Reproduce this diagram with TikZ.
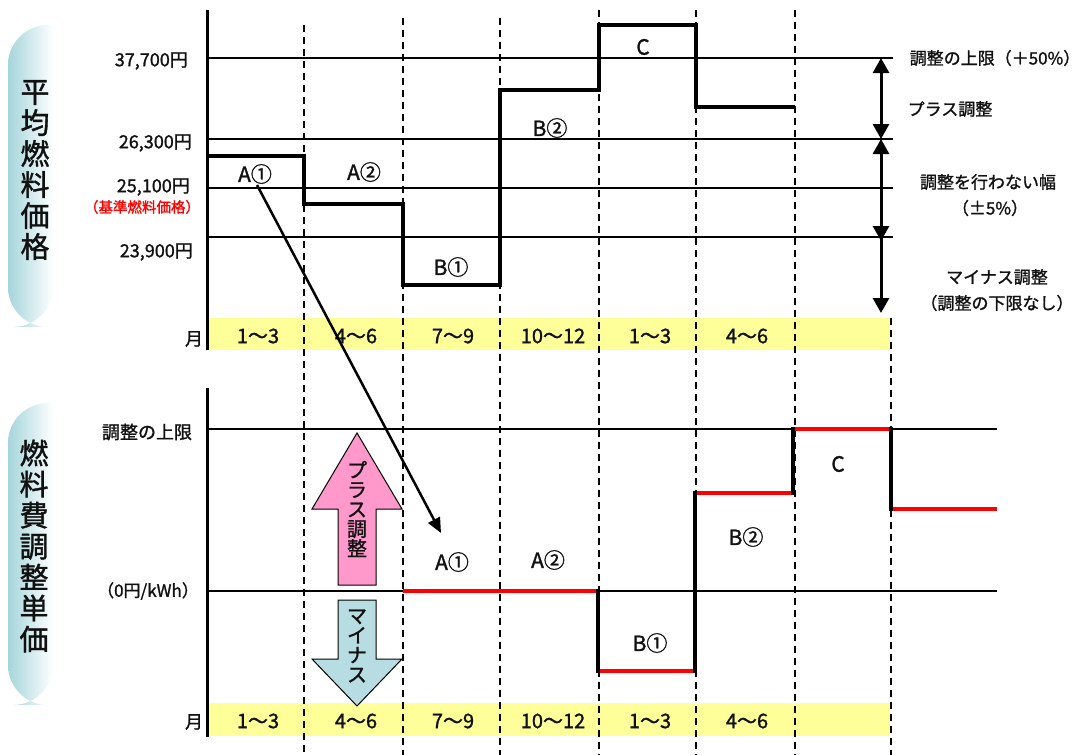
\documentclass[tikz,border=0pt]{standalone}
\usepackage{fontspec}
\setmainfont{Noto Sans CJK JP}[FakeBold=1.3]
\usetikzlibrary{arrows.meta}
\definecolor{band}{RGB}{255,255,153}
\definecolor{pinkc}{RGB}{255,153,204}
\definecolor{bluec}{RGB}{183,221,227}
\definecolor{bannerc}{RGB}{165,213,219}
\definecolor{txt}{RGB}{17,17,17}
\begin{document}
\begin{tikzpicture}[x=1pt,y=-1pt,
  gridline/.style={line width=2pt},
  thickgrid/.style={line width=2.8pt},
  axisline/.style={line width=3pt},
  stepline/.style={line width=3.6pt, line join=miter},
  redline/.style={line width=3.6pt, red},
  dashline/.style={line width=1.4pt, dash pattern=on 7pt off 5pt},
  lbl/.style={font=\fontsize{21}{23}\selectfont, text=txt, inner sep=0pt},
  axlbl/.style={font=\fontsize{18}{20}\selectfont, text=txt, anchor=east, inner sep=0pt},
  mon/.style={font=\fontsize{20}{22}\selectfont, text=txt, inner sep=0pt},
  rlbl/.style={font=\fontsize{17}{20}\selectfont, text=txt, inner sep=0pt},
  bannertxt/.style={font=\fontsize{29}{31}\selectfont, text=txt, align=center, inner sep=0pt},
  blocktxt/.style={font=\fontsize{20}{19.6}\selectfont, text=txt, align=center, inner sep=0pt},
  bigtip/.style={line width=3pt},
  tipstyle/.tip={Triangle[length=15pt,width=16pt]}
]
\useasboundingbox (0,0) rectangle (1085,755);

% banners
\shade[left color=bannerc, right color=white, rounded corners=40pt]
  (53,25) -- (8,25) -- (8,327) -- (53,327) [sharp corners] -- cycle;
\shade[left color=bannerc, right color=white, rounded corners=40pt]
  (53,403) -- (8,403) -- (8,705) -- (53,705) [sharp corners] -- cycle;
\node[bannertxt] (ban1) at (35,170) {平\\均\\燃\\料\\価\\格};
\node[bannertxt] (ban2) at (34,546) {燃\\料\\費\\調\\整\\単\\価};

% yellow bands
\fill[band] (207,318) rectangle (890,350);
\fill[band] (207,703) rectangle (890,736);

% dashed verticals
\draw[dashline] (304,25) -- (304,755);
\draw[dashline] (403,18) -- (403,755);
\draw[dashline] (500,18) -- (500,755);
\draw[dashline] (599,10) -- (599,755);
\draw[dashline] (696,10) -- (696,755);
\draw[dashline] (795,10) -- (795,755);
\draw[dashline] (891,318) -- (891,755);

% top chart horizontal lines
\draw[gridline] (207,58) -- (893,58);
\draw[gridline] (207,139) -- (893,139);
\draw[gridline] (207,188) -- (893,188);
\draw[thickgrid] (207,237) -- (893,237);
\draw[axisline] (207,10) -- (207,350);

% top step
\draw[stepline] (207,156) -- (304,156) -- (304,204) -- (403,204) -- (403,285)
  -- (500,285) -- (500,90) -- (599,90) -- (599,25) -- (696,25) -- (696,107) -- (795,107);

% bottom chart lines
\draw[thickgrid] (207,429) -- (997,429);
\draw[gridline] (207,591) -- (997,591);
\draw[axisline] (207,388) -- (207,737);

% bottom step
\draw[redline] (403,591) -- (598,591);
\draw[redline] (598,671) -- (695,671);
\draw[redline] (695,493) -- (793,493);
\draw[redline] (793,429) -- (891,429);
\draw[redline] (891,509) -- (997,509);
\draw[stepline] (598,589) -- (598,673);
\draw[stepline] (695,673) -- (695,491);
\draw[stepline] (793,495) -- (793,427);
\draw[stepline] (891,427) -- (891,511);

% left axis labels (top)
\node[axlbl] (p377) at (188,61) {37,700円};
\node[axlbl] (p263) at (192,143) {26,300円};
\node[axlbl] (p251) at (190,187) {25,100円};
\node[font=\fontsize{14.5}{16}\selectfont, text=red, inner sep=0pt] (kijun) at (142,207) {（基準燃料価格）};
\node[axlbl] (p239) at (193,252) {23,900円};
\node[font=\fontsize{18}{19}\selectfont, text=txt, inner sep=0pt] (m1) at (194,339) {月};

% left axis labels (bottom)
\node[font=\fontsize{18}{20}\selectfont, text=txt, inner sep=0pt] (ulim) at (147,432) {調整の上限};
\node[font=\fontsize{17}{18}\selectfont, text=txt, inner sep=0pt] (zero) at (148,591) {（0円/kWh）};
\node[font=\fontsize{18}{19}\selectfont, text=txt, inner sep=0pt] (m2) at (194,722) {月};

% month labels
\foreach \x/\t/\n in {258/1〜3/a, 356/4〜6/b, 453/7〜9/c, 553/10〜12/d, 650/1〜3/e, 747/4〜6/f}{
  \node[mon] (mt\n) at (\x,336) {\t};
  \node[mon] (mb\n) at (\x,721) {\t};
}

% top chart labels
\node[lbl] (a1top) at (255,174) {A①};
\node[lbl] (a2top) at (364,172) {A②};
\node[lbl] (b1top) at (451,267) {B①};
\node[lbl] (b2top) at (550,128) {B②};
\node[lbl] (ctop) at (643,47) {C};

% bottom chart labels
\node[lbl] (a1bot) at (452,562) {A①};
\node[lbl] (a2bot) at (548,560) {A②};
\node[lbl] (b1bot) at (650,643) {B①};
\node[lbl] (b2bot) at (746,537) {B②};
\node[lbl] (cbot) at (838,464) {C};

% diagonal arrow
\coordinate (a1tip) at (441,533);
\draw[line width=2.5pt, -{Triangle[length=15pt,width=13pt]}] (257,185) -- (a1tip);

% right arrows
\coordinate (r1) at (881,58);
\coordinate (r2) at (881,139);
\coordinate (r3) at (881,237);
\coordinate (r4) at (881,313);
\draw[bigtip, tipstyle-tipstyle] (r1) -- (r2);
\draw[bigtip, tipstyle-tipstyle] (r2) -- ([yshift=-4pt]r3);
\draw[bigtip, -tipstyle] (r3) -- (r4);

% right labels
\node[rlbl] (rl1) at (995,58) {調整の上限（＋50\%）};
\node[rlbl] (rl2) at (950,109) {プラス調整};
\node[rlbl] (rl3) at (988,182) {調整を行わない幅};
\node[rlbl] (rl4) at (990,208) {（±5\%）};
\node[rlbl] (rl5) at (997,277) {マイナス調整};
\node[rlbl] (rl6) at (997,303) {（調整の下限なし）};

% block arrows
\draw[fill=pinkc, line width=1pt] (357,433) -- (402,509) -- (376,509) -- (376,585)
  -- (338,585) -- (338,509) -- (312,509) -- cycle;
\node[blocktxt] (plus) at (357,509) {プ\\ラ\\ス\\調\\整};
\draw[fill=bluec, line width=1pt] (338,600) -- (376,600) -- (376,659) -- (402,659)
  -- (357,706) -- (312,659) -- (338,659) -- cycle;
\node[blocktxt] (minus) at (357,646) {マ\\イ\\ナ\\ス};
\end{tikzpicture}
\end{document}
